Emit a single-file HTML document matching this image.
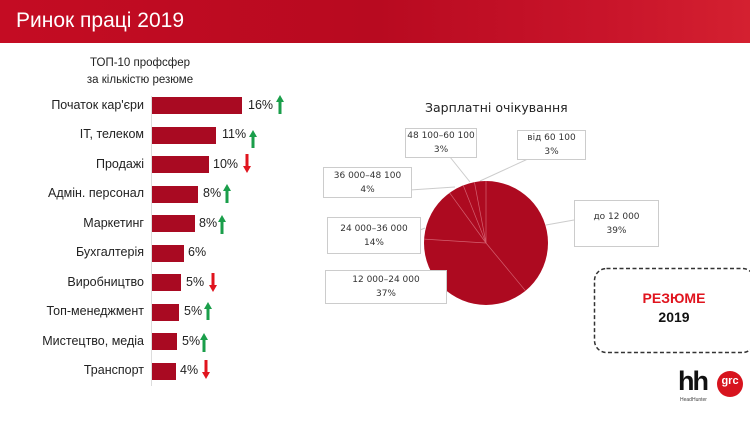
<!DOCTYPE html>
<html><head><meta charset="utf-8"><style>
body{margin:0;width:750px;height:422px;overflow:hidden;background:#fff;font-family:"Liberation Sans",sans-serif;position:relative}
.hdr{position:absolute;left:0;top:0;width:750px;height:43px;background:linear-gradient(90deg,#c40c23,#b80a20 50%,#c8142a 80%,#d42030)}
.t{position:absolute;left:16px;top:9px;color:#fff;font-size:21px}
.lab{position:absolute;right:606px;font-size:12.5px;color:#222;text-align:right;white-space:nowrap}
.bar{position:absolute;left:152px;height:17px;background:#a90a22}
.pct{position:absolute;font-size:12.5px;color:#222}
.box{position:absolute;border:1px solid #ccc;background:#fff;font-family:"DejaVu Sans",sans-serif;font-size:9px;color:#333;text-align:center;line-height:14px;display:flex;flex-direction:column;justify-content:center}
</style></head><body>
<div class="hdr"><div class="t">Ринок праці 2019</div></div>
<div style="position:absolute;left:60px;top:55px;width:160px;text-align:center;font-size:11.5px;line-height:17px;color:#222">ТОП-10 профсфер<br>за кількістю резюме</div>
<div style="position:absolute;left:151px;top:96px;width:1px;height:290px;background:#ddd"></div>
<svg width="750" height="422" style="position:absolute;left:0;top:0">
<g fill="#1a9e4a">
<path d="M280,95 l-4,7 h2.5 v12 h3 v-12 h2.5z"/>
<path d="M253,130 l-4,7 h2.5 v11 h3 v-11 h2.5z"/>
<path d="M227,184 l-4,7 h2.5 v12 h3 v-12 h2.5z"/>
<path d="M222,215 l-4,7 h2.5 v12 h3 v-12 h2.5z"/>
<path d="M208,302 l-4,7 h2.5 v11 h3 v-11 h2.5z"/>
<path d="M204,333 l-4,7 h2.5 v12 h3 v-12 h2.5z"/>
</g>
<g fill="#e0141e">
<path d="M245.5,154 h3 v12 h2.5 l-4,7 l-4,-7 h2.5z"/>
<path d="M211.5,273 h3 v12 h2.5 l-4,7 l-4,-7 h2.5z"/>
<path d="M204.5,360 h3 v12 h2.5 l-4,7 l-4,-7 h2.5z"/>
</g>
<g stroke="#ccc" stroke-width="1" fill="none">
<line x1="470" y1="182" x2="450" y2="157"/>
<line x1="480" y1="181" x2="530" y2="158"/>
<line x1="455" y1="187" x2="410" y2="190"/>
<line x1="425" y1="228" x2="420" y2="230"/>
<line x1="546" y1="225" x2="574" y2="220"/>
</g>
<circle cx="486" cy="243" r="62" fill="#ad0a20"/>
<g stroke="#d46070" stroke-width="0.7">
<line x1="486" y1="243" x2="486" y2="181"/>
<line x1="486" y1="243" x2="525.5" y2="290.8"/>
<line x1="486" y1="243" x2="424.1" y2="239.1"/>
<line x1="486" y1="243" x2="449.6" y2="192.8"/>
<line x1="486" y1="243" x2="463.2" y2="185.3"/>
<line x1="486" y1="243" x2="474.4" y2="182.1"/>
</g>
<rect x="594.5" y="268.5" width="160" height="84" rx="12" fill="none" stroke="#333" stroke-width="1.5" stroke-dasharray="4,2.5"/>
<circle cx="730" cy="384" r="13" fill="#d7141e"/>
</svg>
<div class="lab" style="top:98px">Початок кар'єри</div><div class="bar" style="top:97px;width:90px"></div><div class="pct" style="left:248px;top:98px">16%</div>
<div class="lab" style="top:127px">IT, телеком</div><div class="bar" style="top:127px;width:64px"></div><div class="pct" style="left:222px;top:127px">11%</div>
<div class="lab" style="top:157px">Продажі</div><div class="bar" style="top:156px;width:57px"></div><div class="pct" style="left:213px;top:157px">10%</div>
<div class="lab" style="top:186px">Адмін. персонал</div><div class="bar" style="top:186px;width:46px"></div><div class="pct" style="left:203px;top:186px">8%</div>
<div class="lab" style="top:216px">Маркетинг</div><div class="bar" style="top:215px;width:43px"></div><div class="pct" style="left:199px;top:216px">8%</div>
<div class="lab" style="top:245px">Бухгалтерія</div><div class="bar" style="top:245px;width:32px"></div><div class="pct" style="left:188px;top:245px">6%</div>
<div class="lab" style="top:275px">Виробництво</div><div class="bar" style="top:274px;width:29px"></div><div class="pct" style="left:186px;top:275px">5%</div>
<div class="lab" style="top:304px">Топ-менеджмент</div><div class="bar" style="top:304px;width:27px"></div><div class="pct" style="left:184px;top:304px">5%</div>
<div class="lab" style="top:334px">Мистецтво, медіа</div><div class="bar" style="top:333px;width:25px"></div><div class="pct" style="left:182px;top:334px">5%</div>
<div class="lab" style="top:363px">Транспорт</div><div class="bar" style="top:363px;width:24px"></div><div class="pct" style="left:180px;top:363px">4%</div>
<div style="position:absolute;left:425px;top:100px;font-family:'DejaVu Sans',sans-serif;font-size:12.5px;color:#222">Зарплатні очікування</div>
<div class="box" style="left:405px;top:128px;width:70px;height:28px">48 100–60 100<br>3%</div>
<div class="box" style="left:517px;top:130px;width:67px;height:28px">від 60 100<br>3%</div>
<div class="box" style="left:323px;top:167px;width:87px;height:29px">36 000–48 100<br>4%</div>
<div class="box" style="left:327px;top:217px;width:92px;height:35px">24 000–36 000<br>14%</div>
<div class="box" style="left:325px;top:270px;width:120px;height:32px">12 000–24 000<br>37%</div>
<div class="box" style="left:574px;top:200px;width:83px;height:45px">до 12 000<br>39%</div>
<div style="position:absolute;left:594px;top:290px;width:160px;text-align:center;font-weight:bold;font-size:14px;color:#e0141e">РЕЗЮМЕ</div>
<div style="position:absolute;left:594px;top:309px;width:160px;text-align:center;font-weight:bold;font-size:14px;color:#111">2019</div>
<div style="position:absolute;left:678px;top:366px;font-weight:bold;font-size:27px;letter-spacing:-2px;color:#111;line-height:30px">hh</div>
<div style="position:absolute;left:719px;top:375px;width:22px;text-align:center;font-weight:bold;font-size:11px;color:#fff">grc</div>
<div style="position:absolute;left:680px;top:397px;font-size:5px;color:#444">HeadHunter</div>
</body></html>
